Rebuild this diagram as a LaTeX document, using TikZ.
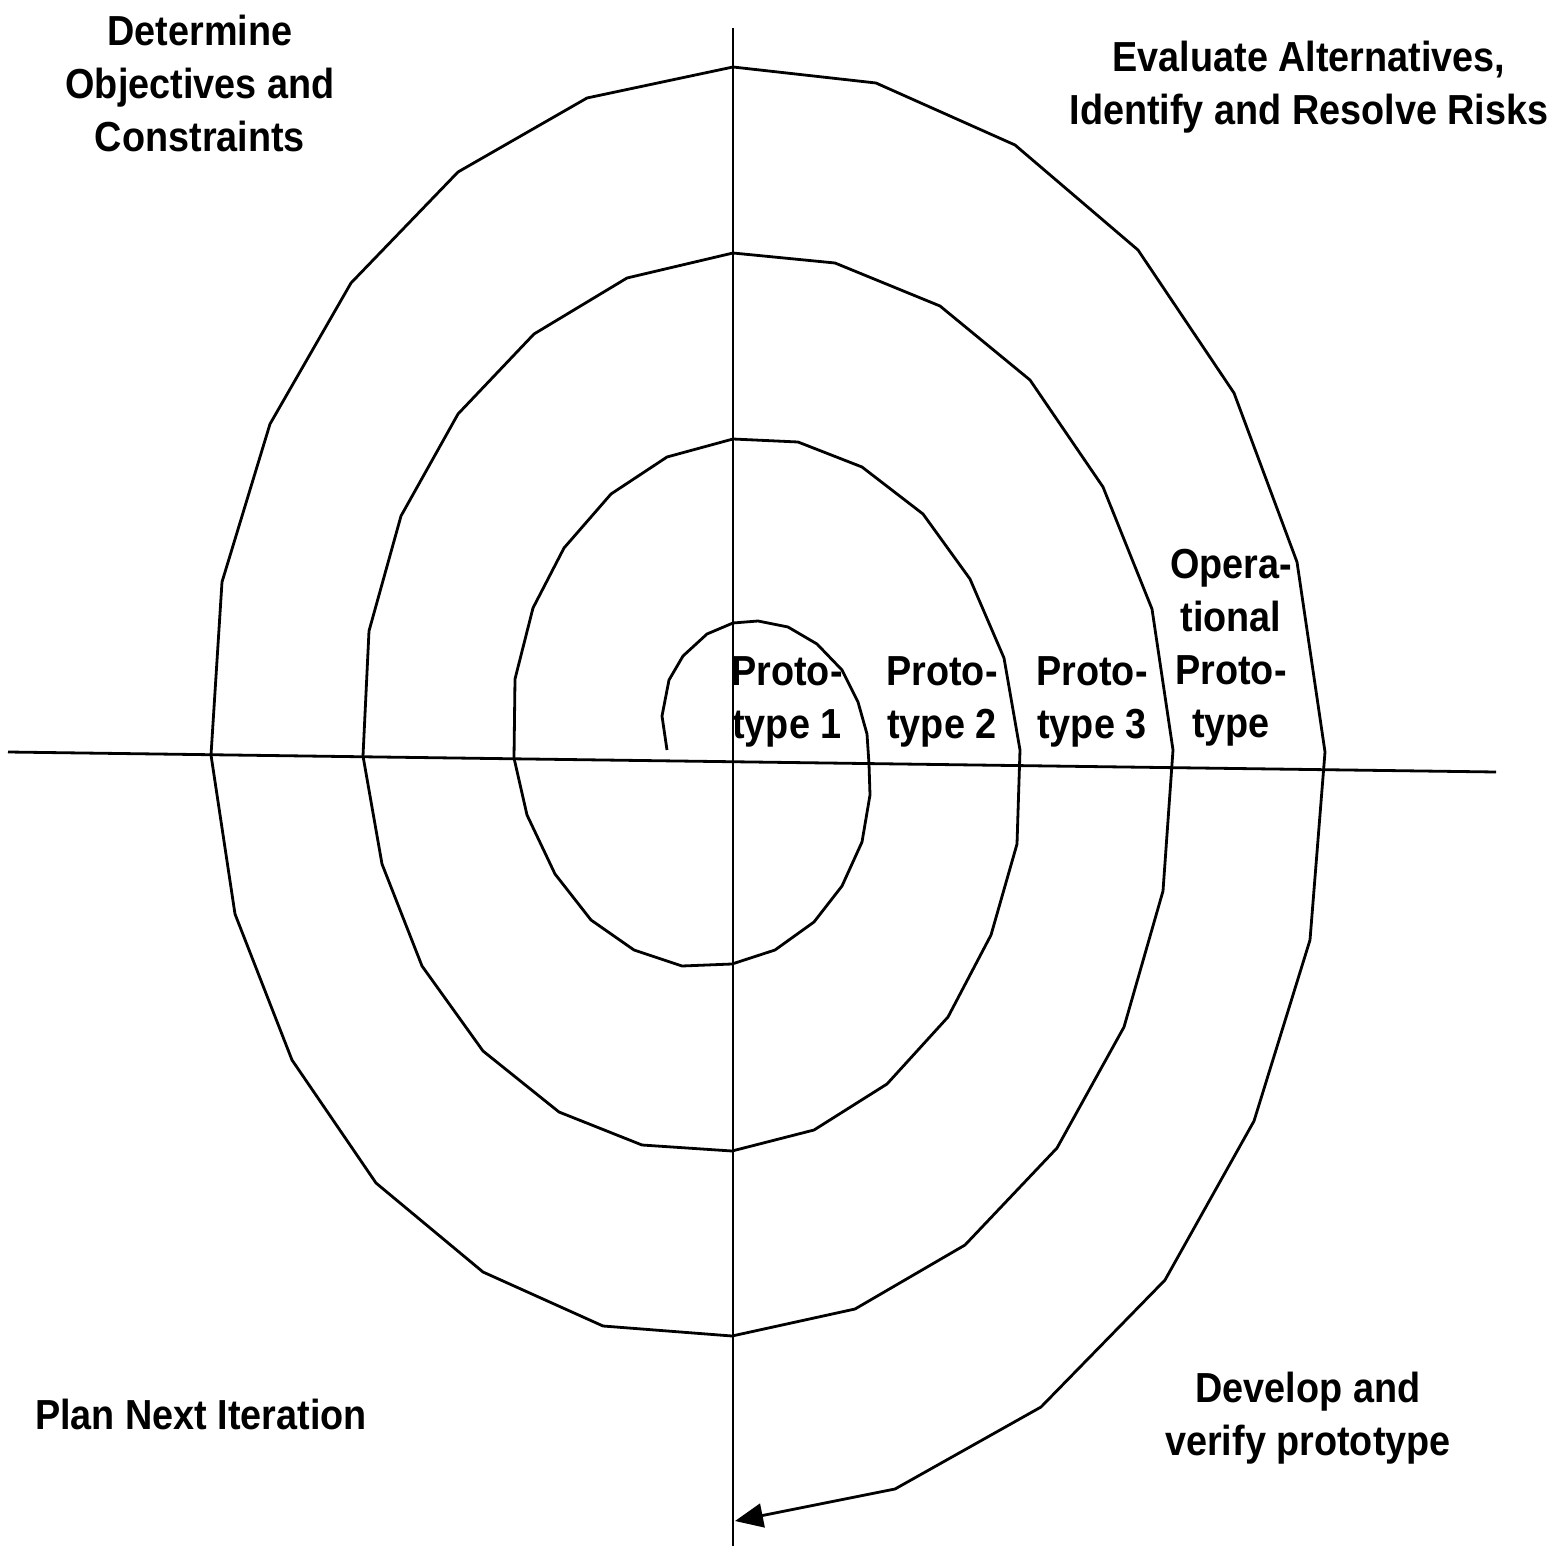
\documentclass[tikz,border=0pt]{standalone}
\usepackage{fontspec}
\setmainfont{Liberation Sans}[FakeStretch=0.9]
\usepackage{tikz}
\usetikzlibrary{arrows.meta,positioning}

\begin{document}
\begin{tikzpicture}
	[x=0.5pt,y=-0.5pt,line width=1.4pt,
	 quadrant/.style={font=\bfseries\fontsize{21}{26.5}\selectfont,align=center,inner sep=0pt},
	 spiral/.style={-{Triangle[length=14pt,width=12pt]},line join=miter}]
	
	\useasboundingbox (0,0) rectangle (1564,1546);
	
	% axes
	\coordinate (top) at (733,28);
	\coordinate (bottom) at (733,1546);
	\coordinate (left) at (8,752);
	\coordinate (right) at (1496,772);
	\draw (top) -- (bottom);
	\draw (left) -- (right);
	
	% spiral, from the centre outwards
	\coordinate (start) at (667,750);
	\coordinate (tip) at (735,1521);
	\draw[spiral] (start) -- (662,716) -- (669,680) -- (683,656) -- (707,634) -- (733,623)
		-- (758,621) -- (788,627) -- (817,644) -- (842,670) -- (858,702) -- (867,734)
		-- (869,764) -- (870,795) -- (862,842) -- (842,886) -- (814,922) -- (775,950)
		-- (732,964) -- (682,966) -- (634,950) -- (591,920) -- (555,874) -- (527,815)
		-- (514,758) -- (515,679) -- (533,608) -- (564,548) -- (611,494) -- (667,457)
		-- (733,439) -- (798,442) -- (862,467) -- (923,514) -- (970,579) -- (1004,658)
		-- (1020,750) -- (1017,844) -- (991,935) -- (948,1017) -- (887,1084) -- (814,1130)
		-- (732,1151) -- (642,1145) -- (559,1112) -- (483,1051) -- (422,966) -- (382,864)
		-- (363,756) -- (369,631) -- (401,516) -- (458,414) -- (534,334) -- (627,278)
		-- (733,253) -- (835,263) -- (940,306) -- (1030,380) -- (1103,487) -- (1152,609)
		-- (1173,750) -- (1163,891) -- (1124,1027) -- (1057,1148) -- (965,1245) -- (855,1309)
		-- (732,1336) -- (603,1326) -- (483,1272) -- (376,1183) -- (292,1060) -- (235,914)
		-- (211,755) -- (222,582) -- (270,424) -- (351,283) -- (458,172) -- (587,98)
		-- (733,67) -- (876,83) -- (1015,145) -- (1138,250) -- (1234,393) -- (1297,562)
		-- (1325,752) -- (1310,940) -- (1254,1121) -- (1165,1280) -- (1041,1407) -- (895,1489)
		-- (tip);
	
	% quadrants
	\node[quadrant] (objectives) at (200,83) {Determine\\Objectives and\\Constraints};
	\node[quadrant] (risks) at (1309,87) {Evaluate Alternatives,\\Identify and Resolve Risks};
	\node[quadrant] (plan) at (201,1414) {Plan Next Iteration};
	\node[quadrant] (develop) at (1308,1418) {Develop and\\verify prototype};
	
	% prototypes
	\node[quadrant] (proto1) at (787,702) {Proto-\\type 1};
	\node[quadrant] (proto2) at (942,702) {Proto-\\type 2};
	\node[quadrant] (proto3) at (1092,702) {Proto-\\type 3};
	\node[quadrant] (operational) at (1231,648) {Opera-\\tional\\Proto-\\type};
\end{tikzpicture}
\end{document}
